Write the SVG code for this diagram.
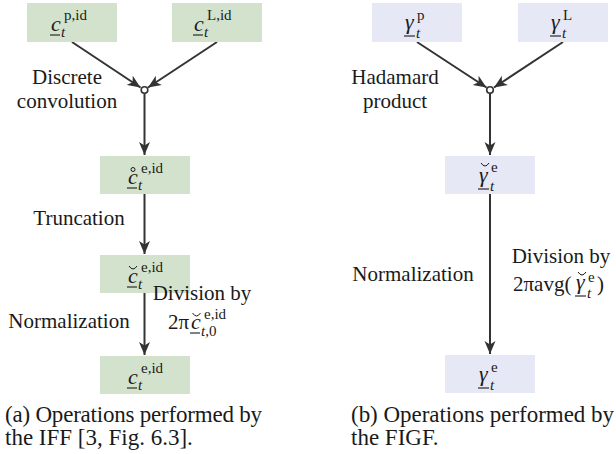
<svg xmlns="http://www.w3.org/2000/svg" width="616" height="454" viewBox="0 0 616 454" font-family="Liberation Serif, Times New Roman, serif">
<style>
.bg{fill:#d3e2cd}
.bb{fill:#e6e8f5}
.t{font-family:Liberation Serif, Times New Roman, serif;fill:#1a1a1a}
.lbl{font-size:21px}
.cap{font-size:23px}
.mi{font-style:italic;font-size:22px}
.sub{font-style:italic;font-size:15px}
.sup{font-size:15px}
.ul{stroke:#1a1a1a;stroke-width:1.1;fill:none}
.acc{stroke:#1a1a1a;stroke-width:1;fill:none}
.edge{stroke:#333;stroke-width:2;fill:none;marker-end:url(#ah)}
.junc{fill:#fff;stroke:#333;stroke-width:1.6}
</style>
<defs>
<marker id="ah" markerUnits="userSpaceOnUse" markerWidth="14" markerHeight="12" refX="13" refY="6" orient="auto">
<path d="M0,0.5 L13,6 L0,11.5 L3.5,6 Z" fill="#333"/>
</marker>
</defs>

<g id="connectors">
<line class="edge" x1="72" y1="42" x2="140.5" y2="87.5"/>
<line class="edge" x1="217" y1="42" x2="148" y2="87.5"/>
<circle class="junc" cx="144.5" cy="90" r="3.3"/>
<line class="edge" x1="144.5" y1="93.5" x2="144.5" y2="155"/>
<line class="edge" x1="144.5" y1="194" x2="144.5" y2="254"/>
<line class="edge" x1="144.5" y1="293" x2="144.5" y2="355"/>
<line class="edge" x1="417" y1="42" x2="486.5" y2="87.5"/>
<line class="edge" x1="563" y1="42" x2="494" y2="87.5"/>
<circle class="junc" cx="490" cy="90" r="3.3"/>
<line class="edge" x1="490" y1="93.5" x2="490" y2="155"/>
<line class="edge" x1="490" y1="194" x2="490" y2="354"/>
</g>

<g id="n-cp">
<rect class="bg" x="27" y="3" width="90" height="39"/>
<text class="t mi" x="51" y="31">c</text>
<line class="ul" x1="50" y1="35" x2="60" y2="35"/>
<text class="t sub" x="61" y="37">t</text>
<text class="t sup" x="64" y="20">p,id</text>
</g>

<g id="n-cL">
<rect class="bg" x="172" y="3" width="90" height="39"/>
<text class="t mi" x="194" y="31">c</text>
<line class="ul" x1="193" y1="35" x2="203" y2="35"/>
<text class="t sub" x="204" y="37">t</text>
<text class="t sup" x="207" y="20">L,id</text>
</g>

<g id="n-c-ring">
<rect class="bg" x="100" y="156" width="90" height="38"/>
<text class="t mi" x="128" y="184">c</text>
<circle class="acc" cx="133" cy="169.5" r="2"/>
<line class="ul" x1="127" y1="188" x2="137" y2="188"/>
<text class="t sub" x="138" y="190">t</text>
<text class="t sup" x="141" y="173">e,id</text>
</g>

<g id="n-c-breve">
<rect class="bg" x="100" y="255" width="90" height="38"/>
<text class="t mi" x="128" y="283">c</text>
<path class="acc" d="M129,266 Q133,272 137,266"/>
<line class="ul" x1="127" y1="287" x2="137" y2="287"/>
<text class="t sub" x="138" y="289">t</text>
<text class="t sup" x="141" y="272">e,id</text>
</g>

<g id="n-ce">
<rect class="bg" x="100" y="356" width="90" height="38"/>
<text class="t mi" x="128" y="384">c</text>
<line class="ul" x1="127" y1="388" x2="137" y2="388"/>
<text class="t sub" x="138" y="390">t</text>
<text class="t sup" x="141" y="373">e,id</text>
</g>

<g id="n-gp">
<rect class="bb" x="372" y="3" width="90" height="39"/>
<text class="t mi" x="405" y="29">γ</text>
<line class="ul" x1="404" y1="36" x2="415" y2="36"/>
<text class="t sub" x="416" y="38">t</text>
<text class="t sup" x="417" y="20">p</text>
</g>

<g id="n-gL">
<rect class="bb" x="518" y="3" width="90" height="39"/>
<text class="t mi" x="551" y="29">γ</text>
<line class="ul" x1="550" y1="36" x2="561" y2="36"/>
<text class="t sub" x="562" y="38">t</text>
<text class="t sup" x="563" y="20">L</text>
</g>

<g id="n-g-breve">
<rect class="bb" x="445" y="156" width="90" height="38"/>
<text class="t mi" x="479" y="182">γ</text>
<path class="acc" d="M481,163 Q485,169 489,163"/>
<line class="ul" x1="478" y1="189" x2="489" y2="189"/>
<text class="t sub" x="490" y="191">t</text>
<text class="t sup" x="491" y="172">e</text>
</g>

<g id="n-ge">
<rect class="bb" x="445" y="355" width="90" height="38"/>
<text class="t mi" x="479" y="381">γ</text>
<line class="ul" x1="478" y1="388" x2="489" y2="388"/>
<text class="t sub" x="490" y="390">t</text>
<text class="t sup" x="491" y="372">e</text>
</g>

<g id="labels">
<text class="t lbl" x="67" y="84" text-anchor="middle">Discrete</text>
<text class="t lbl" x="67" y="108" text-anchor="middle">convolution</text>
<text class="t lbl" x="79" y="225" text-anchor="middle">Truncation</text>
<text class="t lbl" x="69" y="328" text-anchor="middle">Normalization</text>
<text class="t lbl" x="202" y="300" text-anchor="middle">Division by</text>
<text class="t lbl" x="168" y="329">2π</text>
<text class="t mi" x="191" y="329">c</text>
<path class="acc" d="M192.5,313 Q196.5,319 200.5,313"/>
<line class="ul" x1="190" y1="333" x2="200" y2="333"/>
<text class="t sub" x="201" y="336">t<tspan font-style="normal">,0</tspan></text>
<text class="t sup" x="204" y="318.5">e,id</text>

<text class="t lbl" x="395" y="84" text-anchor="middle">Hadamard</text>
<text class="t lbl" x="395" y="108" text-anchor="middle">product</text>
<text class="t lbl" x="413" y="281" text-anchor="middle">Normalization</text>
<text class="t lbl" x="561" y="263" text-anchor="middle">Division by</text>
<text class="t lbl" x="513" y="291">2πavg(</text>
<text class="t mi" x="576" y="289">γ</text>
<path class="acc" d="M578,272 Q582,278 586,272"/>
<line class="ul" x1="575" y1="296" x2="586" y2="296"/>
<text class="t sub" x="587" y="298">t</text>
<text class="t sup" x="588" y="282">e</text>
<text class="t lbl" x="597" y="291">)</text>
</g>

<g id="captions">
<text class="t cap" x="5" y="422" textLength="257">(a) Operations performed by</text>
<text class="t cap" x="5" y="445">the IFF [3, Fig. 6.3].</text>
<text class="t cap" x="351" y="422" textLength="263">(b) Operations performed by</text>
<text class="t cap" x="351" y="445">the FIGF.</text>
</g>
</svg>
